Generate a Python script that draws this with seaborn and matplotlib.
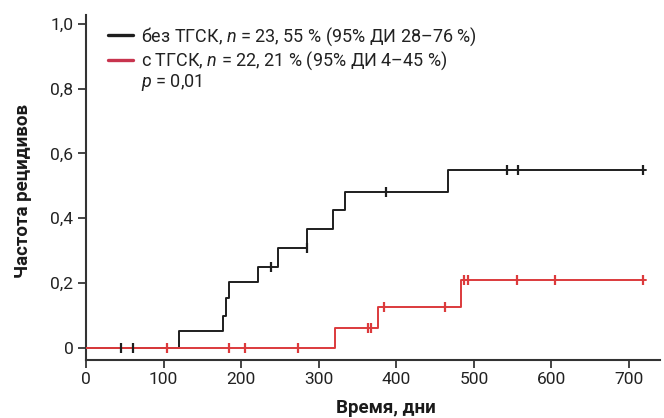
import matplotlib
matplotlib.use("Agg")
import matplotlib.pyplot as plt
import seaborn as sns
import pandas as pd
import numpy as np
from matplotlib.lines import Line2D

# ---- data ----
groups = ["без ТГСК", "с ТГСК"]
black_times = [0, 120, 177, 180, 184, 222, 247, 285, 319, 334, 467, 722]
black_vals = [0.0, 0.053, 0.10, 0.153, 0.205, 0.251, 0.308, 0.366, 0.426, 0.482, 0.55, 0.55]
red_times = [0, 321, 377, 484, 722]
red_vals = [0.0, 0.062, 0.127, 0.21, 0.21]
black_cens_t = [45, 60, 238, 285, 387, 543, 557, 718]
black_cens_v = [0.0, 0.0, 0.251, 0.308, 0.482, 0.55, 0.55, 0.55]
red_cens_t = [105, 184, 205, 273, 364, 368, 384, 463, 487, 493, 555, 604, 718]
red_cens_v = [0.0, 0.0, 0.0, 0.0, 0.062, 0.062, 0.127, 0.127, 0.21, 0.21, 0.21, 0.21, 0.21]
legend_labels = ["без ТГСК, $n$ = 23, 55 % (95% ДИ 28–76 %)",
                 "с ТГСК, $n$ = 22, 21 % (95% ДИ 4–45 %)"]
p_text = "$p$ = 0,01"
xticks = [0, 100, 200, 300, 400, 500, 600, 700]
yticks = [0, 0.2, 0.4, 0.6, 0.8, 1.0]
ytick_labels = ["0", "0,2", "0,4", "0,6", "0,8", "1,0"]

sns.set_theme(style="white")
plt.rcParams["font.family"] = ["Roboto", "DejaVu Sans"]
plt.rcParams["mathtext.fontset"] = "custom"
plt.rcParams["mathtext.it"] = "Roboto:italic"
plt.rcParams["mathtext.rm"] = "Roboto"

BLACK = "#1e1e1e"
RED = "#dc3a3c"

fig = plt.figure(figsize=(6.64, 4.18), dpi=100)
ax = fig.add_axes([0.1295, 0.1388, 0.8645, 0.826])

df = pd.concat([
    pd.DataFrame({"t": black_times, "v": black_vals, "g": groups[0]}),
    pd.DataFrame({"t": red_times, "v": red_vals, "g": groups[1]}),
])
sns.lineplot(data=df, x="t", y="v", hue="g", palette=[BLACK, RED],
             drawstyle="steps-post", linewidth=1.4, ax=ax, legend=False,
             estimator=None, sort=False)
ax.lines[1].set_zorder(3)

cb = pd.DataFrame({"t": black_cens_t, "v": black_cens_v})
cr = pd.DataFrame({"t": red_cens_t, "v": red_cens_v})
sns.scatterplot(data=cb, x="t", y="v", marker="|", s=60, color=BLACK,
                linewidth=1.6, ax=ax, zorder=4)
sns.scatterplot(data=cr, x="t", y="v", marker="|", s=60, color=RED,
                linewidth=1.6, ax=ax, zorder=4)

ax.set_xlim(0, 740)
ax.set_ylim(-0.037, 1.028)
ax.set_xticks(xticks)
ax.set_yticks(yticks)
ax.set_yticklabels(ytick_labels)
ax.tick_params(axis="both", direction="out", length=6, width=1.4,
               color="#444444", labelsize=12.5, labelcolor="#222222", pad=3,
               bottom=True, left=True)
for s in ["top", "right"]:
    ax.spines[s].set_visible(False)
for s in ["left", "bottom"]:
    ax.spines[s].set_color("#333333")
    ax.spines[s].set_linewidth(1.5)

ax.set_xlabel("Время, дни", fontsize=13.5, fontweight="bold", color="#1a1a1a",
              va="center", ha="center")
ax.xaxis.set_label_coords(0.523, -0.138)
ax.set_ylabel("Частота рецидивов", fontsize=13.5, fontweight="bold",
              color="#1a1a1a", va="center", ha="center")
ax.yaxis.set_label_coords(-0.11, 0.49)

handles = [Line2D([], [], color=BLACK, lw=2.4), Line2D([], [], color="#c8344e", lw=2.4)]
leg = ax.legend(handles, legend_labels, loc="upper left", bbox_to_anchor=(0.02, 1.0),
                frameon=False, fontsize=13, handlelength=1.35, handletextpad=0.45,
                labelspacing=0.1, borderaxespad=0.2)
for t in leg.get_texts():
    t.set_color("#222222")
ax.text(0.095, 0.79, p_text, transform=ax.transAxes, fontsize=13, color="#222222",
        va="baseline", ha="left")

fig.savefig("out.png", dpi=100)
